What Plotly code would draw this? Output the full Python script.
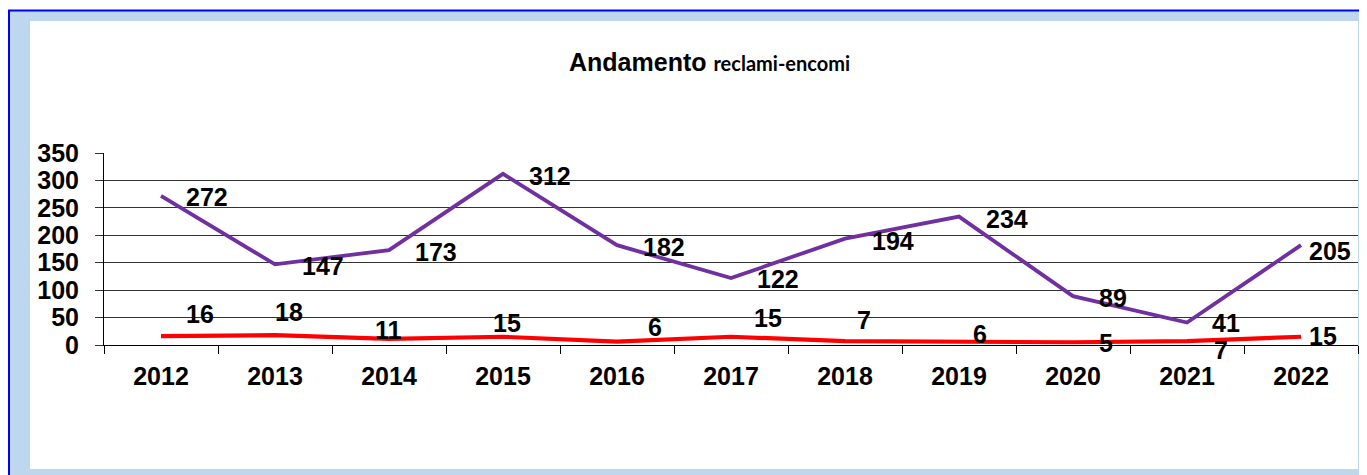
import plotly.graph_objects as go

# ---- data ----
years = ["2012", "2013", "2014", "2015", "2016", "2017", "2018", "2019", "2020", "2021", "2022"]
reclami = [272, 147, 173, 312, 182, 122, 194, 234, 89, 41, 182]
reclami_labels = ["272", "147", "173", "312", "182", "122", "194", "234", "89", "41", "205"]
encomi = [16, 18, 11, 15, 6, 15, 7, 6, 5, 7, 15]
encomi_labels = ["16", "18", "11", "15", "6", "15", "7", "6", "5", "7", "15"]
y_ticks = [0, 50, 100, 150, 200, 250, 300, 350]

# ---- label offsets (pixels) ----
reclami_dx = [23, 25, 24, 24, 24, 24, 25, 25, 24, 23, 6]
reclami_dy = [-1, -2, -2, -2, -2, -1, -2, -2, -2, 0, -6]
encomi_dx = [23, -2, -16, -12, 29, 21, 10, 12, 24, 25, 6]
encomi_dy = [22, 23, 9, 14, 15, 19, 21, 8, -1, -9, 1]

OFF = 8  # page body margin of the html page
W, H = 1367 - OFF, 475 - OFF
PL, PR, PT, PB = 104 - OFF, 1358 - OFF, 153 - OFF, 345 - OFF  # plot area in figure pixels


def fx(px):
    # px given in page coordinates
    return (px - OFF - PL) / (PR - PL)


def fy(py):
    return (PB - (py - OFF)) / (PB - PT)


PURPLE = "#7030A0"
RED = "#FF0000"
LIGHTBLUE = "#BDD7EE"
FONT = "Liberation Sans"
FS = 25

fig = go.Figure()
fig.add_trace(go.Scatter(x=years, y=reclami, mode="lines",
                         line=dict(color=PURPLE, width=3.8), name="reclami",
                         hoverinfo="skip"))
fig.add_trace(go.Scatter(x=years, y=encomi, mode="lines",
                         line=dict(color=RED, width=4.2), name="encomi",
                         hoverinfo="skip"))

annotations = []
for i, (y, t, dx, dy) in enumerate(zip(reclami, reclami_labels, reclami_dx, reclami_dy)):
    annotations.append(dict(x=i, y=y, text=t, showarrow=False,
                            xanchor="left", yanchor="middle", xshift=dx, yshift=dy,
                            font=dict(family=FONT, size=FS, color="black", weight="bold")))
for i, (y, t, dx, dy) in enumerate(zip(encomi, encomi_labels, encomi_dx, encomi_dy)):
    annotations.append(dict(x=i, y=y, text=t, showarrow=False,
                            xanchor="left", yanchor="middle", xshift=dx, yshift=dy,
                            font=dict(family=FONT, size=FS, color="black", weight="bold")))

# title
annotations.append(dict(
    xref="paper", yref="paper", x=fx(709), y=fy(62), xanchor="center", yanchor="middle",
    showarrow=False,
    text="<b>Andamento</b> <span style='font-family:Lato;font-size:20px'><b>reclami-encomi</b></span>",
    font=dict(family=FONT, size=25, color="black")))

shapes = [
    dict(type="rect", xref="paper", yref="paper", x0=fx(9), x1=fx(1400), y0=fy(11), y1=fy(500),
         fillcolor=LIGHTBLUE, line=dict(width=0), layer="below"),
    dict(type="rect", xref="paper", yref="paper", x0=fx(30), x1=fx(1358), y0=fy(21), y1=fy(469),
         fillcolor="white", line=dict(width=0), layer="below"),
    dict(type="line", xref="paper", yref="paper", x0=fx(8), x1=fx(1400), y0=fy(10.5), y1=fy(10.5),
         line=dict(color="#0000FF", width=2), layer="below"),
    dict(type="line", xref="paper", yref="paper", x0=fx(9), x1=fx(9), y0=fy(10), y1=fy(500),
         line=dict(color="#0000FF", width=2), layer="below"),
]

fig.update_layout(
    width=W, height=H,
    margin=dict(l=PL, r=W - PR, t=PT, b=H - PB, pad=0),
    paper_bgcolor="white", plot_bgcolor="rgba(0,0,0,0)",
    showlegend=False,
    annotations=annotations,
    shapes=shapes,
    xaxis=dict(type="category", range=[-0.5, 10.5], showgrid=False,
               showline=True, linecolor="black", linewidth=1,
               ticks="outside", tickson="boundaries", ticklen=8, tickcolor="black",
               tickfont=dict(family=FONT, size=FS, color="black", weight="bold"),
               ticklabelstandoff=9,
               zeroline=False, fixedrange=True),
    yaxis=dict(range=[0, 350], tickvals=y_ticks, showgrid=True, gridcolor="#333333", gridwidth=1,
               showline=True, linecolor="black", linewidth=1,
               ticks="outside", ticklen=8, tickcolor="#333333",
               tickfont=dict(family=FONT, size=FS, color="black", weight="bold"),
               ticklabelstandoff=11,
               zeroline=False, fixedrange=True),
)

fig.write_html("out.html")
